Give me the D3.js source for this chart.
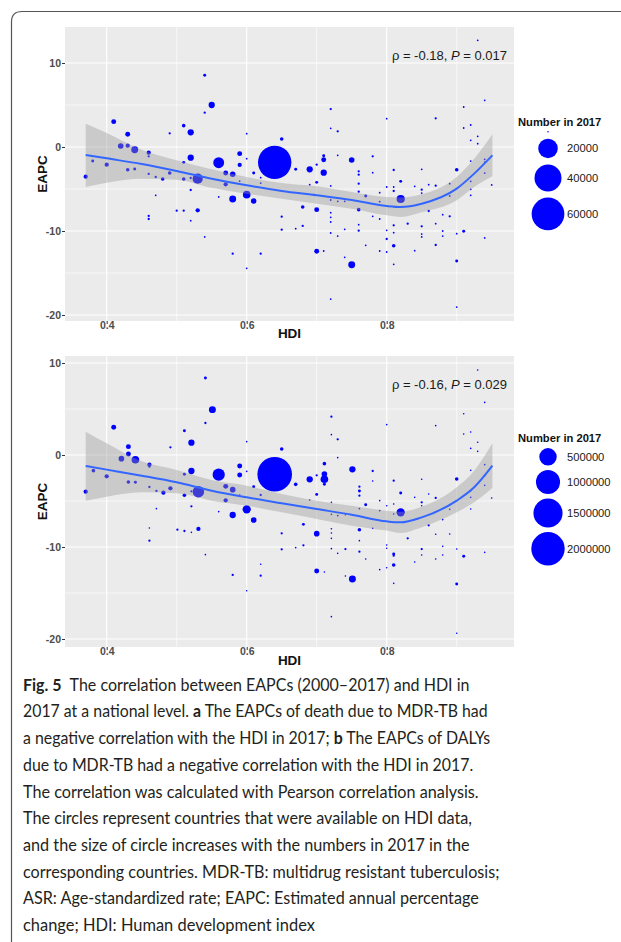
<!DOCTYPE html>
<html>
<head>
<meta charset="utf-8">
<script src="https://cdn.jsdelivr.net/npm/d3@7"></script>
<style>
  body { margin: 0; background: #fff; }
  svg { display: block; }
</style>
</head>
<body>
<script>
// ---- values ----

// panel a: EAPC of deaths vs HDI, size = deaths in 2017
const hdiA = [
  0.370, 0.380, 0.400, 0.410, 0.420, 0.430, 0.430, 0.440, 0.430, 0.440, 0.460, 0.460, 0.460, 0.470, 0.480, 0.490,
  0.490, 0.470, 0.460, 0.460, 0.510, 0.520, 0.510, 0.520, 0.510, 0.530, 0.520, 0.520, 0.500, 0.510, 0.530, 0.520,
  0.540, 0.550, 0.540, 0.540,
  0.560, 0.570, 0.580, 0.570, 0.560, 0.580, 0.590, 0.590, 0.590, 0.600, 0.600, 0.600, 0.610, 0.610, 0.620, 0.620,
  0.640, 0.650, 0.670, 0.690, 0.700, 0.710, 0.710, 0.710, 0.700, 0.690, 0.680, 0.700, 0.650, 0.650, 0.670, 0.680,
  0.580, 0.620, 0.600, 0.700, 0.710, 0.720, 0.720, 0.730, 0.730, 0.750, 0.720, 0.720, 0.730, 0.740, 0.760, 0.760,
  0.760, 0.760, 0.760, 0.720, 0.720, 0.720, 0.720, 0.730, 0.740, 0.760, 0.760, 0.740, 0.750, 0.720,
  0.770, 0.780, 0.780, 0.770, 0.780, 0.790, 0.790, 0.790, 0.790, 0.800, 0.800, 0.800, 0.800, 0.800, 0.810, 0.810,
  0.810, 0.810, 0.810, 0.810, 0.810, 0.820, 0.820, 0.830, 0.840, 0.840, 0.850, 0.850, 0.850, 0.850, 0.850, 0.850,
  0.860, 0.860, 0.870, 0.870, 0.870, 0.870, 0.880, 0.880, 0.880, 0.890, 0.890, 0.890, 0.900, 0.900, 0.900, 0.900,
  0.910, 0.910, 0.910, 0.920, 0.920, 0.920, 0.920, 0.920, 0.930, 0.930, 0.930, 0.920, 0.940, 0.940, 0.940, 0.940,
  0.950, 0.940
];
const eapcA = [
  -3.53, -1.67, -2.10, 3.02, 0.12, 1.51, 0.16, -0.32, -2.70, -2.62, -0.67, -1.11, -3.21, -3.57, -3.81, 1.63,
  -3.10, -5.75, -8.21, -8.57, 2.54, 1.75, -1.83, -1.27, -3.81, -3.77, -3.69, -5.12, -7.58, -7.58, -7.54, -8.77,
  8.53, 5.00, 4.09, -10.71,
  -1.87, -3.10, -3.25, -4.44, -5.95, -6.19, -0.79, -2.14, -4.05, 1.59, -1.39, -5.67, -3.10, -6.43, -3.65, -4.29,
  -1.83, 0.95, -2.66, -2.66, -2.10, -1.03, -1.51, -3.06, -4.21, -4.48, -7.14, -7.46, -8.29, -9.84, -9.72, -9.40,
  -12.70, -12.70, -14.44, -12.42, -12.38, 4.52, 2.22, 1.87, -0.99, -1.55, -4.64, -6.31, -6.47, -6.47, -2.90, -3.29,
  -4.37, -5.32, -7.46, -7.82, -8.37, -8.93, -10.24, -10.60, -9.80, -9.25, -9.96, -13.13, -14.01, -18.10,
  -5.83, -1.11, -3.06, -11.71, -8.25, -5.44, -6.51, -8.57, -12.38, 3.37, -4.76, -9.92, -10.95, -12.50, -2.74, -4.76,
  -5.24, -9.33, -10.20, -11.75, -13.97, -4.09, -6.19, -9.13, -4.68, -12.34, -2.66, -5.08, -5.48, -9.44, -10.36, -10.71,
  -4.48, -7.62, 3.41, -4.60, -9.13, -11.67, -8.06, -10.00, -10.60, -4.37, -5.83, -8.25, -2.70, -10.32, -13.57, -19.05,
  4.76, 2.26, -10.04, 2.62, 0.79, -4.09, -5.04, -5.75, 12.70, 1.27, 0.40, -1.67, 5.56, -1.47, -3.10, -10.83,
  -4.52, -1.79
];
const numA = [
  470, 130, 470, 720, 1030, 720, 470, 1800, 270, 130, 470, 40, 40, 40, 270, 40,
  270, 5, 40, 40, 270, 1390, 130, 1390, 270, 4670, 40, 40, 40, 40, 470, 5,
  130, 1390, 40, 5,
  5400, 720, 1030, 470, 5, 1800, 720, 470, 5, 5, 5, 2270, 130, 1030, 5, 5,
  62500, 270, 130, 1390, 40, 130, 720, 1390, 130, 5, 270, 720, 40, 40, 5, 40,
  40, 40, 5, 720, 5, 40, 5, 40, 5, 1030, 5, 5, 5, 5, 40, 40,
  40, 40, 270, 5, 5, 5, 5, 5, 5, 5, 40, 5, 1800, 5,
  130, 40, 5, 5, 5, 5, 5, 5, 5, 5, 5, 5, 40, 5, 40, 5,
  40, 40, 5, 270, 5, 130, 2790, 40, 5, 5, 5, 40, 5, 40, 5, 5,
  5, 40, 40, 40, 5, 40, 5, 5, 5, 5, 5, 40, 270, 5, 130, 5,
  5, 5, 130, 5, 5, 5, 5, 5, 5, 5, 5, 5, 5, 5, 5, 5,
  5, 5
];

// panel b: EAPC of DALYs vs HDI, size = DALYs in 2017
const hdiB = [
  0.370, 0.381, 0.400, 0.410, 0.421, 0.431, 0.431, 0.441, 0.431, 0.441, 0.461, 0.461, 0.461, 0.471, 0.481, 0.491,
  0.491, 0.471, 0.461, 0.461, 0.511, 0.521, 0.511, 0.521, 0.511, 0.531, 0.521, 0.521, 0.501, 0.511, 0.531, 0.521,
  0.541, 0.551, 0.541, 0.541,
  0.560, 0.570, 0.580, 0.570, 0.560, 0.580, 0.590, 0.590, 0.590, 0.600, 0.600, 0.600, 0.610, 0.610, 0.620, 0.620,
  0.640, 0.650, 0.670, 0.690, 0.700, 0.711, 0.711, 0.711, 0.711, 0.700, 0.690, 0.681, 0.700, 0.650, 0.650, 0.670,
  0.681, 0.580, 0.620, 0.600, 0.700, 0.711, 0.721, 0.721, 0.730, 0.730, 0.751, 0.721, 0.721, 0.730, 0.741, 0.761,
  0.761, 0.761, 0.761, 0.761, 0.721, 0.721, 0.721, 0.721, 0.730, 0.741, 0.761, 0.761, 0.741, 0.751, 0.721,
  0.770, 0.780, 0.780, 0.770, 0.780, 0.790, 0.790, 0.790, 0.800, 0.800, 0.800, 0.800, 0.800, 0.810, 0.810, 0.810,
  0.810, 0.810, 0.810, 0.810, 0.820, 0.820, 0.830, 0.840, 0.840, 0.850, 0.850, 0.850, 0.850, 0.850, 0.860, 0.860,
  0.870, 0.870, 0.870, 0.870, 0.880, 0.880, 0.880, 0.890, 0.890, 0.900, 0.900, 0.900, 0.900, 0.910, 0.910, 0.910,
  0.920, 0.920, 0.920, 0.920, 0.920, 0.930, 0.930, 0.930, 0.920, 0.940, 0.940, 0.940, 0.940, 0.950, 0.940
];
const eapcB = [
  -3.99, -1.70, -2.32, 3.01, -0.40, 0.91, 0.11, -0.51, -2.93, -2.97, -1.05, -1.27, -3.48, -3.91, -4.09, 0.83,
  -3.62, -5.83, -7.93, -9.31, 2.64, 1.34, -2.10, -1.74, -4.38, -3.99, -3.95, -5.58, -8.12, -8.26, -8.04, -8.41,
  8.37, 4.93, 3.48, -10.83,
  -2.14, -3.41, -3.77, -4.93, -6.16, -6.52, -1.20, -2.17, -4.35, 1.45, -1.78, -5.91, -3.44, -7.07, -4.35, -11.88,
  -2.10, 0.65, -3.19, -2.64, -2.21, -0.94, -2.07, -2.64, -3.19, -4.28, -4.89, -7.54, -8.55, -8.51, -10.25, -10.07,
  -9.82, -13.04, -13.12, -14.75, -12.61, -12.72, 4.17, 2.21, 1.70, -0.29, -1.56, -5.14, -6.45, -6.59, -6.49, -3.44,
  -3.91, -4.42, -5.83, -8.12, -8.01, -8.48, -9.06, -10.18, -10.69, -10.22, -9.31, -10.51, -13.15, -13.48, -17.57,
  -5.40, -1.74, -2.83, -11.30, -7.97, -4.96, -6.05, -12.46, 3.30, -5.51, -9.78, -10.14, -12.25, -2.79, -5.33, -6.41,
  -10.76, -10.94, -11.96, -13.95, -4.13, -6.23, -9.06, -4.60, -11.63, -2.64, -5.14, -5.51, -10.22, -10.87, -4.24, -7.64,
  3.19, -4.67, -8.62, -11.30, -7.03, -9.93, -10.87, -5.91, -8.59, -2.61, -10.22, -14.02, -19.38, 4.49, 2.28, -11.01,
  2.50, 0.72, -3.88, -4.60, -5.87, 9.24, 1.38, 0.40, -1.67, 5.72, -1.05, -3.30, -10.58, -4.67, -2.25
];
const numB = [
  15250, 8770, 15250, 23400, 33300, 23400, 23400, 73500, 8770, 4140, 15250, 1230, 1230, 1230, 15250, 1230,
  15250, 35, 35, 1230, 4140, 45000, 4140, 45000, 8770, 198000, 1230, 1230, 1230, 1230, 15250, 35,
  4140, 58400, 1230, 35,
  225000, 23400, 33300, 15250, 35, 45000, 23400, 23400, 35, 35, 35, 90200, 4140, 33300, 1230, 35,
  2150000, 8770, 8770, 45000, 1230, 8770, 33300, 73500, 4140, 4140, 35, 4140, 33300, 1230, 1230, 35,
  1230, 1230, 1230, 35, 23400, 35, 1230, 35, 1230, 35, 45000, 35, 35, 35, 35, 1230,
  4140, 1230, 35, 8770, 35, 35, 35, 35, 35, 1230, 35, 1230, 35, 58400, 35,
  4140, 1230, 35, 35, 35, 35, 35, 35, 35, 35, 35, 35, 35, 1230, 35, 35,
  4140, 1230, 8770, 35, 4140, 90200, 1230, 35, 35, 35, 1230, 35, 1230, 35, 35, 1230,
  35, 1230, 35, 35, 35, 35, 35, 35, 35, 8770, 35, 4140, 35, 35, 35, 4140,
  35, 35, 35, 35, 35, 35, 35, 35, 35, 35, 35, 35, 35, 35, 35
];

// loess fit and its 95% band, read at these HDI values
const fitHdi = [0.37, 0.40, 0.45, 0.50, 0.55, 0.60, 0.65, 0.70, 0.75, 0.80, 0.82, 0.85, 0.90, 0.925, 0.951];
const fitA = [-0.95, -1.35, -2.02, -2.86, -3.77, -4.56, -5.24, -5.75, -6.31, -7.02, -7.14, -6.75, -4.96, -3.17, -0.99];
const loA  = [-4.76, -4.25, -3.77, -3.89, -4.86, -5.56, -6.15, -6.75, -7.34, -8.13, -8.33, -7.78, -6.35, -4.76, -3.49];
const hiA  = [2.78, 1.67, -0.32, -1.59, -2.66, -3.57, -4.29, -4.68, -5.36, -5.95, -6.00, -5.63, -3.57, -1.39, 1.51];
const fitB = [-1.20, -1.59, -2.25, -2.97, -3.88, -4.60, -5.25, -5.87, -6.49, -7.21, -7.32, -6.78, -4.96, -3.51, -1.16];
const loB  = [-4.96, -4.53, -4.06, -4.17, -4.96, -5.51, -6.23, -6.96, -7.68, -8.22, -8.48, -7.86, -6.23, -5.14, -3.59];
const hiB  = [2.54, 1.27, -0.69, -1.63, -2.72, -3.33, -4.24, -4.96, -5.51, -6.05, -6.16, -5.62, -3.51, -1.70, 1.27];

// axis breaks and legend keys
const xMajor = [0.4, 0.6, 0.8];
const xMinor = [0.5, 0.7, 0.9];
const yMajor = [-20, -10, 0, 10];
const yMinor = [-15, -5, 5];
const legendA = [0, 20000, 40000, 60000];
const legendALabels = ['', '20000', '40000', '60000'];
const legendB = [500000, 1000000, 1500000, 2000000];
const legendBLabels = ['500000', '1000000', '1500000', '2000000'];

const captionLines = [
  [['b', 'Fig. 5'], ['n', '\u2002The correlation between EAPCs (2000\u20132017) and HDI in']],
  [['n', '2017 at a national level. '], ['b', 'a'], ['n', ' The EAPCs of death due to MDR-TB had']],
  [['n', 'a negative correlation with the HDI in 2017; '], ['b', 'b'], ['n', ' The EAPCs of DALYs']],
  [['n', 'due to MDR-TB had a negative correlation with the HDI in 2017.']],
  [['n', 'The correlation was calculated with Pearson correlation analysis.']],
  [['n', 'The circles represent countries that were available on HDI data,']],
  [['n', 'and the size of circle increases with the numbers in 2017 in the']],
  [['n', 'corresponding countries. MDR-TB: multidrug resistant tuberculosis;']],
  [['n', 'ASR: Age-standardized rate; EAPC: Estimated annual percentage']],
  [['n', 'change; HDI: Human development index']]
];
const captionWidths = [447, 465, 468, 451, 456, 449, 447, 477, 456, 292];

// ---- layout ----
const width = 621;
const height = 942;
const panelLeft = 65, panelRight = 514;
const axisFont = '"Liberation Sans", Arial, sans-serif';

const svg = d3.select('body').append('svg')
    .attr('width', width)
    .attr('height', height);

svg.append('rect').attr('width', width).attr('height', height).attr('fill', '#fff');

// figure frame (only top and left edges are visible)
svg.append('path')
    .attr('d', 'M11.5,942 V22 Q11.5,11.5 22,11.5 H621')
    .attr('fill', 'none')
    .attr('stroke', '#555')
    .attr('stroke-width', 1.2);

const x = d3.scaleLinear().domain([0.4, 0.8]).range([106.7, 386.7]);

function drawPanel(p) {
    const y = d3.scaleLinear().domain([-20, 10]).range(p.yRange);
    const r = d3.scaleSqrt().domain([0, p.maxNum]).range([0.75, p.maxR]);
    const g = svg.append('g');

    g.append('clipPath').attr('id', 'clip-' + p.key)
      .append('rect')
        .attr('x', panelLeft).attr('y', p.top)
        .attr('width', panelRight - panelLeft).attr('height', p.bottom - p.top);

    g.append('rect')
        .attr('x', panelLeft).attr('y', p.top)
        .attr('width', panelRight - panelLeft).attr('height', p.bottom - p.top)
        .attr('fill', '#ebebeb');

    const grid = g.append('g').attr('stroke', '#fff');
    grid.selectAll('.ymin').data(yMinor).join('line')
        .attr('x1', panelLeft).attr('x2', panelRight)
        .attr('y1', d => y(d)).attr('y2', d => y(d))
        .attr('stroke-width', 0.6);
    grid.selectAll('.xmin').data(xMinor).join('line')
        .attr('y1', p.top).attr('y2', p.bottom)
        .attr('x1', d => x(d)).attr('x2', d => x(d))
        .attr('stroke-width', 0.6);
    grid.selectAll('.ymaj').data(yMajor).join('line')
        .attr('x1', panelLeft).attr('x2', panelRight)
        .attr('y1', d => y(d)).attr('y2', d => y(d))
        .attr('stroke-width', 1.1);
    grid.selectAll('.xmaj').data(xMajor).join('line')
        .attr('y1', p.top).attr('y2', p.bottom)
        .attr('x1', d => x(d)).attr('x2', d => x(d))
        .attr('stroke-width', 1.1);

    const inner = g.append('g').attr('clip-path', `url(#clip-${p.key})`);

    const pts = p.hdi.map((h, i) => ({hdi: h, eapc: p.eapc[i], n: p.num[i]}));
    inner.selectAll('circle')
        .data(pts)
        .join('circle')
        .attr('cx', d => x(d.hdi))
        .attr('cy', d => y(d.eapc))
        .attr('r', d => r(d.n))
        .attr('fill', '#0000ff');

    const band = fitHdi.map((h, i) => ({hdi: h, fit: p.fit[i], lo: p.lo[i], hi: p.hi[i]}));
    inner.append('path')
        .datum(band)
        .attr('fill', '#999999')
        .attr('fill-opacity', 0.4)
        .attr('d', d3.area()
            .curve(d3.curveMonotoneX)
            .x(d => x(d.hdi))
            .y0(d => y(d.lo))
            .y1(d => y(d.hi)));

    inner.append('path')
        .datum(band)
        .attr('fill', 'none')
        .attr('stroke', '#3366ff')
        .attr('stroke-width', 2)
        .attr('d', d3.line()
            .curve(d3.curveMonotoneX)
            .x(d => x(d.hdi))
            .y(d => y(d.fit)));

    // correlation note
    const note = g.append('text')
        .attr('x', 507).attr('y', p.noteY)
        .attr('text-anchor', 'end')
        .attr('font-family', axisFont)
        .attr('font-size', 13)
        .attr('fill', '#1a1a1a');
    note.append('tspan').text(`\u03c1 = -${p.rho}, `);
    note.append('tspan').attr('font-style', 'italic').text('P');
    note.append('tspan').text(` = ${p.pval}`);

    // axes (plain hyphen for negatives, as in the figure)
    const yAxis = g.append('g')
        .attr('transform', `translate(${panelLeft},0)`)
        .call(d3.axisLeft(y).tickValues(yMajor).tickSize(3).tickPadding(1).tickFormat(d => String(d)));
    const xAxis = g.append('g')
        .attr('transform', `translate(0,${p.bottom})`)
        .call(d3.axisBottom(x).tickValues(xMajor).tickSize(3).tickPadding(-2).tickFormat(d => d.toFixed(1)));
    [yAxis, xAxis].forEach(a => {
        a.select('.domain').remove();
        a.selectAll('line').attr('stroke', '#333');
        a.selectAll('text')
            .attr('font-family', axisFont)
            .attr('font-size', 10.5)
            .attr('font-weight', 'bold')
            .attr('fill', '#4d4d4d');
    });

    g.append('text')
        .attr('transform', `translate(47,${(p.top + p.bottom) / 2}) rotate(-90)`)
        .attr('text-anchor', 'middle')
        .attr('font-family', axisFont)
        .attr('font-size', 13.5)
        .attr('font-weight', 'bold')
        .attr('fill', '#111')
        .text('EAPC');
    g.append('text')
        .attr('x', (panelLeft + panelRight) / 2)
        .attr('y', p.hdiTitleY)
        .attr('text-anchor', 'middle')
        .attr('font-family', axisFont)
        .attr('font-size', 13.5)
        .attr('font-weight', 'bold')
        .attr('fill', '#111')
        .text('HDI');

    // size legend
    const lg = g.append('g');
    lg.append('text')
        .attr('x', 518).attr('y', p.legendTitleY)
        .attr('font-family', axisFont)
        .attr('font-size', 11.2)
        .attr('font-weight', 'bold')
        .attr('fill', '#111')
        .text('Number in 2017');
    let cy = p.legendTitleY + p.legendGap;
    p.legendVals.forEach((v, i) => {
        const rr = r(v);
        cy += rr + p.legendPad;
        lg.append('circle').attr('cx', 548).attr('cy', cy).attr('r', rr).attr('fill', '#0000ff');
        lg.append('text')
            .attr('x', 567).attr('y', cy).attr('dy', '0.35em')
            .attr('font-family', axisFont)
            .attr('font-size', 11.2)
            .attr('fill', '#1a1a1a')
            .text(p.legendLabels[i]);
        cy += rr + p.legendPad;
    });
}

drawPanel({
    key: 'a', top: 27, bottom: 321, yRange: [315, 63],
    hdi: hdiA, eapc: eapcA, num: numA, fit: fitA, lo: loA, hi: hiA,
    maxNum: 65000, maxR: 17,
    rho: '0.18', pval: '0.017', noteY: 59.5, hdiTitleY: 338,
    legendVals: legendA, legendLabels: legendALabels,
    legendTitleY: 126, legendGap: 1.9, legendPad: 3.1
});

drawPanel({
    key: 'b', top: 356, bottom: 647, yRange: [639, 363],
    hdi: hdiB, eapc: eapcB, num: numB, fit: fitB, lo: loB, hi: hiB,
    maxNum: 2150000, maxR: 17.3,
    rho: '0.16', pval: '0.029', noteY: 388.5, hdiTitleY: 665,
    legendVals: legendB, legendLabels: legendBLabels,
    legendTitleY: 441.5, legendGap: 4.4, legendPad: 2.2
});

// caption, each line squeezed to the width it has in the figure
const cap = svg.append('g')
    .attr('font-family', 'Lato, "Open Sans", sans-serif')
    .attr('font-size', 17.5)
    .attr('fill', '#231f20');
captionLines.forEach((parts, i) => {
    const baseY = 690.7 + i * 26.7;
    const t = cap.append('text');
    parts.forEach(([w, s]) => {
        t.append('tspan').attr('font-weight', w === 'b' ? 'bold' : 'normal').text(s);
    });
    const natural = t.node().getComputedTextLength();
    const k = captionWidths[i] / natural;
    t.attr('transform', `translate(23,${baseY}) scale(${k},1)`);
});
</script>
</body>
</html>
